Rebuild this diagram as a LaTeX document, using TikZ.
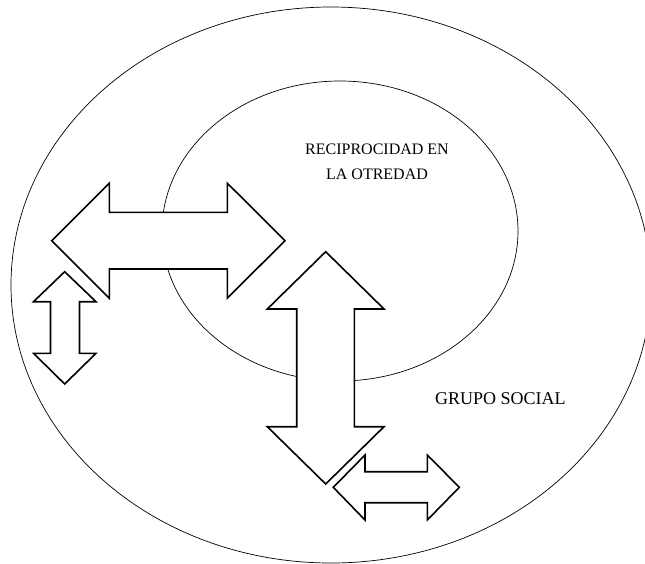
\documentclass[tikz,border=0pt]{standalone}
\usepackage{fontspec}
\setmainfont{Liberation Serif}
\tikzset{
  ring/.style={draw=black, line width=0.7pt},
  flowarrow/.style={draw=black, fill=white, line width=1.6pt, line join=miter},
  label/.style={inner sep=0pt, text=black}
}
\begin{document}
\begin{tikzpicture}[x=1pt, y=-1pt]
  \useasboundingbox (0,0) rectangle (645,563);
  \clip (0,0) rectangle (645,563);

  % social group and the inner circle of reciprocity
  \draw[ring] (331,285) ellipse [x radius=320, y radius=278];
  \draw[ring] (340,231) ellipse [x radius=178, y radius=150];

  % large horizontal double arrow
  \draw[flowarrow] (51.7,240.7) -- (109.3,183.2) -- (109.3,212.4) -- (227.3,212.4)
    -- (227.3,183.2) -- (285,240.7) -- (227.3,298.2) -- (227.3,269)
    -- (109.3,269) -- (109.3,298.2) -- cycle;

  % small vertical double arrow
  \draw[flowarrow] (64.7,271.7) -- (96,301.7) -- (79.5,301.7) -- (79.5,353.3)
    -- (96,353.3) -- (64.7,384) -- (33.5,353.3) -- (50.5,353.3)
    -- (50.5,301.7) -- (33.5,301.7) -- cycle;

  % large vertical double arrow
  \draw[flowarrow] (325.7,251.7) -- (384,309) -- (354.3,309) -- (354.3,426.7)
    -- (384,426.7) -- (325.7,484) -- (267.3,426.7) -- (296.7,426.7)
    -- (296.7,309) -- (267.3,309) -- cycle;

  % small horizontal double arrow
  \draw[flowarrow] (333.3,487.3) -- (365,455) -- (365,471.7) -- (427.3,471.7)
    -- (427.3,455) -- (459.3,487.3) -- (427.3,520) -- (427.3,502.7)
    -- (365,502.7) -- (365,520) -- cycle;

  % labels (base anchor sits on the last line)
  \node[label, align=center, anchor=base, font=\fontsize{16}{25}\selectfont]
    (recip) at (377,179) {RECIPROCIDAD EN\\LA OTREDAD};
  \node[label, anchor=base west, font=\fontsize{18}{22}\selectfont]
    (grupo) at (435,404) {GRUPO SOCIAL};
\end{tikzpicture}
\end{document}
